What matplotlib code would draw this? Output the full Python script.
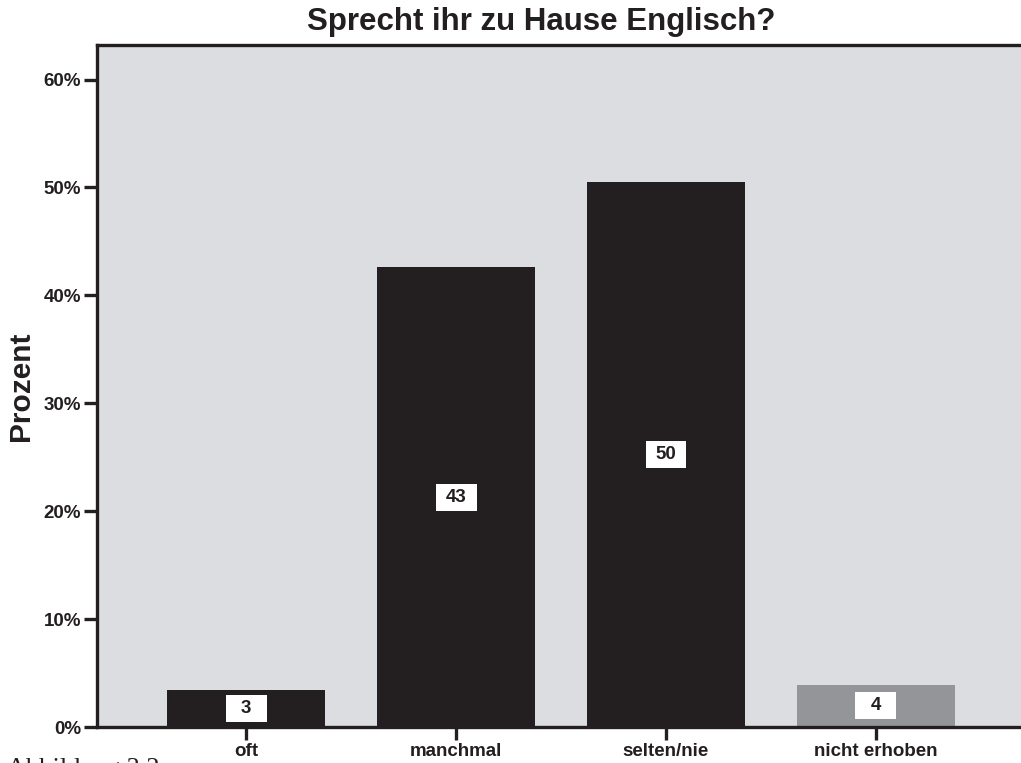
import matplotlib.pyplot as plt
from matplotlib.patches import Rectangle
import numpy as np

plt.rcParams["font.family"] = ["Liberation Sans", "DejaVu Sans"]

# Antworten und Anteile in Prozent
categories = ["oft", "manchmal", "selten/nie", "nicht erhoben"]
values = [3.4, 42.6, 50.5, 3.9]
bar_colors = ["#231f20", "#231f20", "#231f20", "#939598"]
yticks = [0, 10, 20, 30, 40, 50, 60]

fig = plt.figure(figsize=(10.21, 7.63), dpi=100)
ax = fig.add_axes([97 / 1021, 1 - 727 / 763, 1 - 97 / 1021 + 0.01, (727 - 45) / 763])
ax.set_facecolor("#dcdde0")

x = np.arange(len(categories))
ax.bar(x, values, width=0.755, color=bar_colors, zorder=2)

ax.set_xlim(-0.711, 3.74)
ax.set_ylim(0, 63.2)

# Werte als weisse Kästchen in der Mitte der Balken
box_w, box_h = 0.195, 2.5
for xi, v in zip(x, values):
    ax.add_patch(Rectangle((xi - box_w / 2, v / 2 - box_h / 2), box_w, box_h,
                           fc="white", ec="none", zorder=3))
    ax.text(xi, v / 2, f"{round(v)}", ha="center", va="center", fontsize=13.5,
            fontweight="bold", color="#231f20", zorder=4)

ax.set_xticks(x)
ax.set_xticklabels(categories, fontsize=13.5, fontweight="bold", color="#231f20")
ax.set_yticks(yticks)
ax.set_yticklabels([f"{t}%" for t in yticks], fontsize=13.5, fontweight="bold", color="#231f20")
ax.tick_params(axis="both", length=9.5, width=2.4, color="#231f20", pad=2)

for s in ["left", "bottom", "top"]:
    ax.spines[s].set_linewidth(2.4)
    ax.spines[s].set_color("#231f20")
ax.spines["right"].set_visible(False)

ax.set_ylabel("Prozent", fontsize=21.5, fontweight="bold", labelpad=6, color="#231f20")
fig.text(541 / 1021, 1 - 22 / 763, "Sprecht ihr zu Hause Englisch?", ha="center",
         va="center", fontsize=22.5, fontweight="bold", color="#231f20")
# Bildunterschrift läuft unten aus dem Bild
fig.text(7 / 1021, 1 - 775 / 763, "Abbildung 3.2", ha="left", va="baseline",
         fontsize=19, family="Liberation Serif", color="#231f20")

fig.savefig("out.png", dpi=100)
